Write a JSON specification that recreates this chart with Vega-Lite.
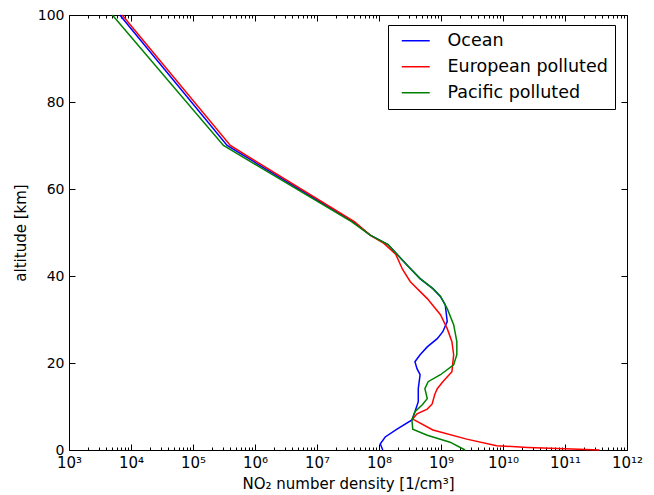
{
  "$schema": "https://vega.github.io/schema/vega-lite/v6.json",
  "width": 558,
  "height": 435,
  "autosize": {"type": "none"},
  "padding": {"left": 69, "top": 15, "right": 27, "bottom": 45},
  "background": "white",
  "config": {
    "font": "DejaVu Sans",
    "view": {"stroke": "#000", "strokeWidth": 1},
    "axis": {"domain": false, "grid": false, "tickColor": "#000", "labelColor": "#000", "titleColor": "#000", "labelFont": "DejaVu Sans", "titleFont": "DejaVu Sans", "labelFontSize": 14, "titleFontSize": 15, "titleFontWeight": "normal"}
  },
  "data": {
    "values": [
      {"series": "Ocean", "altitude": 100, "density": 6.6e3},
      {"series": "Ocean", "altitude": 70, "density": 3.55e5},
      {"series": "Ocean", "altitude": 52.5, "density": 3.8e7},
      {"series": "Ocean", "altitude": 49.4, "density": 7.2e7},
      {"series": "Ocean", "altitude": 47.2, "density": 1.4e8},
      {"series": "Ocean", "altitude": 42.6, "density": 2.8e8},
      {"series": "Ocean", "altitude": 39.4, "density": 4.6e8},
      {"series": "Ocean", "altitude": 37.1, "density": 7.4e8},
      {"series": "Ocean", "altitude": 35.3, "density": 9.8e8},
      {"series": "Ocean", "altitude": 33.4, "density": 1.17e9},
      {"series": "Ocean", "altitude": 29.5, "density": 1.26e9},
      {"series": "Ocean", "altitude": 27.2, "density": 1.07e9},
      {"series": "Ocean", "altitude": 25.6, "density": 8.7e8},
      {"series": "Ocean", "altitude": 23.7, "density": 6.0e8},
      {"series": "Ocean", "altitude": 21.9, "density": 4.6e8},
      {"series": "Ocean", "altitude": 20.3, "density": 3.8e8},
      {"series": "Ocean", "altitude": 18.7, "density": 4.1e8},
      {"series": "Ocean", "altitude": 17.3, "density": 4.6e8},
      {"series": "Ocean", "altitude": 14.1, "density": 4.3e8},
      {"series": "Ocean", "altitude": 11.1, "density": 4.3e8},
      {"series": "Ocean", "altitude": 8.8, "density": 3.8e8},
      {"series": "Ocean", "altitude": 6.9, "density": 3.4e8},
      {"series": "Ocean", "altitude": 4.8, "density": 1.95e8},
      {"series": "Ocean", "altitude": 3.0, "density": 1.26e8},
      {"series": "Ocean", "altitude": 1.4, "density": 1.05e8},
      {"series": "Ocean", "altitude": 0, "density": 1.15e8},
      {"series": "European polluted", "altitude": 100, "density": 7.2e3},
      {"series": "European polluted", "altitude": 70, "density": 4.0e5},
      {"series": "European polluted", "altitude": 52.5, "density": 4.0e7},
      {"series": "European polluted", "altitude": 49.4, "density": 7.2e7},
      {"series": "European polluted", "altitude": 47.5, "density": 1.2e8},
      {"series": "European polluted", "altitude": 45, "density": 1.86e8},
      {"series": "European polluted", "altitude": 41.5, "density": 2.4e8},
      {"series": "European polluted", "altitude": 38.7, "density": 3.2e8},
      {"series": "European polluted", "altitude": 34.8, "density": 6.0e8},
      {"series": "European polluted", "altitude": 31.1, "density": 9.8e8},
      {"series": "European polluted", "altitude": 27.9, "density": 1.26e9},
      {"series": "European polluted", "altitude": 24.9, "density": 1.5e9},
      {"series": "European polluted", "altitude": 21.9, "density": 1.6e9},
      {"series": "European polluted", "altitude": 18, "density": 1.5e9},
      {"series": "European polluted", "altitude": 15.7, "density": 1.07e9},
      {"series": "European polluted", "altitude": 14.1, "density": 8.7e8},
      {"series": "European polluted", "altitude": 12.7, "density": 7.9e8},
      {"series": "European polluted", "altitude": 10.6, "density": 7.2e8},
      {"series": "European polluted", "altitude": 9.4, "density": 6.0e8},
      {"series": "European polluted", "altitude": 8.3, "density": 4.1e8},
      {"series": "European polluted", "altitude": 7.1, "density": 3.5e8},
      {"series": "European polluted", "altitude": 4.6, "density": 7.4e8},
      {"series": "European polluted", "altitude": 2.5, "density": 2.6e9},
      {"series": "European polluted", "altitude": 1.0, "density": 7.9e9},
      {"series": "European polluted", "altitude": 0.6, "density": 2.5e10},
      {"series": "European polluted", "altitude": 0.3, "density": 1.0e11},
      {"series": "European polluted", "altitude": 0, "density": 3.6e11},
      {"series": "Pacific polluted", "altitude": 100, "density": 5.0e3},
      {"series": "Pacific polluted", "altitude": 70, "density": 3.1e5},
      {"series": "Pacific polluted", "altitude": 52.5, "density": 3.6e7},
      {"series": "Pacific polluted", "altitude": 49.4, "density": 7.2e7},
      {"series": "Pacific polluted", "altitude": 47.2, "density": 1.4e8},
      {"series": "Pacific polluted", "altitude": 42.6, "density": 2.8e8},
      {"series": "Pacific polluted", "altitude": 39.4, "density": 4.6e8},
      {"series": "Pacific polluted", "altitude": 37.1, "density": 7.4e8},
      {"series": "Pacific polluted", "altitude": 35.3, "density": 9.8e8},
      {"series": "Pacific polluted", "altitude": 32.5, "density": 1.26e9},
      {"series": "Pacific polluted", "altitude": 28.8, "density": 1.6e9},
      {"series": "Pacific polluted", "altitude": 24.9, "density": 1.8e9},
      {"series": "Pacific polluted", "altitude": 21.9, "density": 1.8e9},
      {"series": "Pacific polluted", "altitude": 19.6, "density": 1.6e9},
      {"series": "Pacific polluted", "altitude": 17.3, "density": 9.8e8},
      {"series": "Pacific polluted", "altitude": 15.7, "density": 6.2e8},
      {"series": "Pacific polluted", "altitude": 14.1, "density": 5.5e8},
      {"series": "Pacific polluted", "altitude": 11.8, "density": 6.0e8},
      {"series": "Pacific polluted", "altitude": 10.4, "density": 5.0e8},
      {"series": "Pacific polluted", "altitude": 8.8, "density": 3.8e8},
      {"series": "Pacific polluted", "altitude": 6.9, "density": 3.4e8},
      {"series": "Pacific polluted", "altitude": 4.8, "density": 3.5e8},
      {"series": "Pacific polluted", "altitude": 3.4, "density": 6.0e8},
      {"series": "Pacific polluted", "altitude": 1.8, "density": 1.4e9},
      {"series": "Pacific polluted", "altitude": 0, "density": 2.45e9}
    ]
  },
  "resolve": {"axis": {"x": "independent", "y": "independent"}},
  "layer": [
    {
      "mark": {"type": "line", "opacity": 0},
      "encoding": {
        "x": {"field": "density", "type": "quantitative",
          "scale": {"type": "log", "domain": [1e3, 1e12], "nice": false},
          "axis": {"orient": "top", "labels": false, "title": null,
            "values": [1e3,2e3,3e3,4e3,5e3,6e3,7e3,8e3,9e3,1e4,2e4,3e4,4e4,5e4,6e4,7e4,8e4,9e4,1e5,2e5,3e5,4e5,5e5,6e5,7e5,8e5,9e5,1e6,2e6,3e6,4e6,5e6,6e6,7e6,8e6,9e6,1e7,2e7,3e7,4e7,5e7,6e7,7e7,8e7,9e7,1e8,2e8,3e8,4e8,5e8,6e8,7e8,8e8,9e8,1e9,2e9,3e9,4e9,5e9,6e9,7e9,8e9,9e9,1e10,2e10,3e10,4e10,5e10,6e10,7e10,8e10,9e10,1e11,2e11,3e11,4e11,5e11,6e11,7e11,8e11,9e11,1e12],
            "tickSize": {"condition": {"test": "abs(log(datum.value)/LN10 - round(log(datum.value)/LN10)) < 0.01", "value": -6}, "value": -3}}},
        "y": {"field": "altitude", "type": "quantitative",
          "scale": {"domain": [0, 100], "nice": false},
          "axis": {"orient": "right", "labels": false, "title": null, "values": [0,20,40,60,80,100], "tickSize": -6}},
        "detail": {"field": "series"},
        "order": {"field": "altitude", "type": "quantitative"}
      }
    },
    {
      "mark": {"type": "line", "strokeWidth": 1.5},
      "encoding": {
        "x": {"field": "density", "type": "quantitative",
          "scale": {"type": "log", "domain": [1e3, 1e12], "nice": false},
          "axis": {"orient": "bottom", "title": "NO₂ number density [1/cm³]", "titlePadding": 3,
            "labelOverlap": false, "labelFlush": false, "labelPadding": 11, "labelFontSize": 15,
            "values": [1e3,2e3,3e3,4e3,5e3,6e3,7e3,8e3,9e3,1e4,2e4,3e4,4e4,5e4,6e4,7e4,8e4,9e4,1e5,2e5,3e5,4e5,5e5,6e5,7e5,8e5,9e5,1e6,2e6,3e6,4e6,5e6,6e6,7e6,8e6,9e6,1e7,2e7,3e7,4e7,5e7,6e7,7e7,8e7,9e7,1e8,2e8,3e8,4e8,5e8,6e8,7e8,8e8,9e8,1e9,2e9,3e9,4e9,5e9,6e9,7e9,8e9,9e9,1e10,2e10,3e10,4e10,5e10,6e10,7e10,8e10,9e10,1e11,2e11,3e11,4e11,5e11,6e11,7e11,8e11,9e11,1e12],
            "labelExpr": "abs(log(datum.value)/LN10 - round(log(datum.value)/LN10)) < 0.01 ? ['10⁰','10¹','10²','10³','10⁴','10⁵','10⁶','10⁷','10⁸','10⁹','10¹⁰','10¹¹','10¹²'][round(log(datum.value)/LN10)] : ''",
            "tickSize": {"condition": {"test": "abs(log(datum.value)/LN10 - round(log(datum.value)/LN10)) < 0.01", "value": -6}, "value": -3}}},
        "y": {"field": "altitude", "type": "quantitative",
          "scale": {"domain": [0, 100], "nice": false},
          "axis": {"orient": "left", "title": "altitude [km]", "values": [0,20,40,60,80,100], "tickSize": -6, "labelPadding": 11, "titlePadding": 9}},
        "color": {"field": "series", "type": "nominal",
          "scale": {"domain": ["Ocean", "European polluted", "Pacific polluted"], "range": ["#0000ff", "#ff0000", "#008000"]},
          "legend": {"orient": "none", "legendX": 319, "legendY": 10, "title": null,
            "strokeColor": "#000", "fillColor": "#fff", "padding": 7, "cornerRadius": 0,
            "symbolType": "M-2,0H2", "symbolSize": 196, "symbolStrokeWidth": 1.5, "symbolOffset": 12,
            "labelFont": "DejaVu Sans", "labelFontSize": 17.5, "labelColor": "#000", "labelOffset": 23, "labelLimit": 300, "rowPadding": 7}},
        "order": {"field": "altitude", "type": "quantitative"}
      }
    }
  ]
}
